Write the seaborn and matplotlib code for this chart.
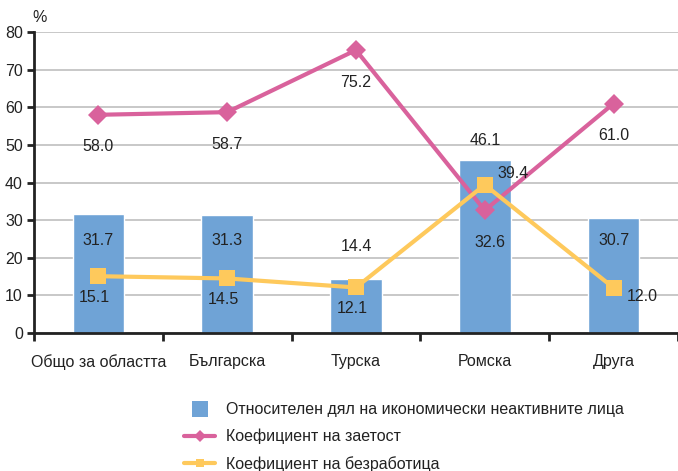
import numpy as np
import pandas as pd
import matplotlib
matplotlib.use("Agg")
import matplotlib.pyplot as plt
from matplotlib.lines import Line2D
import seaborn as sns

categories = ["Общо за областта", "Българска", "Турска", "Ромска", "Друга"]
inactive_share = [31.7, 31.3, 14.4, 46.1, 30.7]
employment_rate = [58.0, 58.7, 75.2, 32.6, 61.0]
unemployment_rate = [15.1, 14.5, 12.1, 39.4, 12.0]
y_ticks = [0, 10, 20, 30, 40, 50, 60, 70, 80]
legend_labels = ["Относителен дял на икономически неактивните лица",
                 "Коефициент на заетост",
                 "Коефициент на безработица"]

BAR_C = "#6fa3d6"
EMP_C = "#d9629c"
UNE_C = "#fec95c"

sns.set_theme(style="white")
plt.rcParams["font.family"] = ["Liberation Sans", "DejaVu Sans"]

df = pd.DataFrame({"cat": categories, "pos": np.arange(len(categories)),
                   "inactive": inactive_share, "emp": employment_rate,
                   "une": unemployment_rate})

fig = plt.figure(figsize=(6.78, 4.71), dpi=100)
ax = fig.add_axes([0.050, 0.293, 0.950, 0.639])

ax.set_axisbelow(True)
ax.yaxis.grid(True, color="#c8c8c8", linewidth=1.4)
sns.barplot(data=df, x="cat", y="inactive", color=BAR_C, width=0.4,
            saturation=1, ax=ax, zorder=2)
sns.lineplot(data=df, x="pos", y="emp", color=EMP_C, linewidth=3,
             marker="D", markersize=10, markeredgewidth=0, ax=ax, zorder=3)
sns.lineplot(data=df, x="pos", y="une", color=UNE_C, linewidth=3,
             marker="s", markersize=11, markeredgewidth=0, ax=ax, zorder=4)

fs = 11.5
tc = "#222222"
# bar labels
for i, v in enumerate(inactive_share):
    if v > 40:
        ax.text(i, v + 3, f"{v:.1f}", ha="center", va="bottom", fontsize=fs, color=tc, zorder=5)
    elif v < 20:
        ax.text(i, 23.1, f"{v:.1f}", ha="center", va="center", fontsize=fs, color=tc, zorder=5)
    else:
        ax.text(i, 24.5, f"{v:.1f}", ha="center", va="center", fontsize=fs, color=tc, zorder=5)
# employment labels
for i, v in enumerate(employment_rate):
    ax.text(i + (0.04 if i == 3 else 0), v - 8.5, f"{v:.1f}", ha="center",
            va="center", fontsize=fs, color=tc, zorder=5)
# unemployment labels
for i, v in enumerate(unemployment_rate):
    if i >= 3:
        ax.text(i + 0.1, v + (3 if i == 3 else -2.2), f"{v:.1f}", ha="left",
                va="center", fontsize=fs, color=tc, zorder=5)
    else:
        ax.text(i - 0.03, v - 5.6, f"{v:.1f}", ha="center", va="center",
                fontsize=fs, color=tc, zorder=5)

ax.set_xlim(-0.5, len(categories) - 0.5)
ax.set_ylim(0, 80)
ax.set_yticks(y_ticks)
ax.set_xlabel("")
ax.set_ylabel("")
ax.set_xticks(np.arange(-0.5, len(categories)), minor=False)
ax.set_xticklabels([""] * (len(categories) + 1))
ax.set_xticks(np.arange(len(categories)), minor=True)
ax.set_xticklabels(categories, minor=True, fontsize=fs, color=tc)
ax.tick_params(axis="x", which="major", direction="out", length=6, width=2,
               color=tc, bottom=True)
ax.tick_params(axis="x", which="minor", length=0, pad=15)
ax.tick_params(axis="y", direction="out", length=5, width=2, color=tc,
               left=True, labelsize=fs, labelcolor=tc, pad=3)
for s in ["top", "right"]:
    ax.spines[s].set_visible(False)
for s in ["left", "bottom"]:
    ax.spines[s].set_color(tc)
    ax.spines[s].set_linewidth(2)

fig.text(0.048, 0.962, "%", fontsize=fs, ha="left", va="center", color=tc)

handles = [
    Line2D([0], [0], color=BAR_C, linestyle="none", marker="s", markersize=12,
           markeredgewidth=0),
    Line2D([0], [0], color=EMP_C, linewidth=3, marker="D", markersize=6, markeredgewidth=0),
    Line2D([0], [0], color=UNE_C, linewidth=3, marker="s", markersize=6, markeredgewidth=0),
]
leg = fig.legend(handles, legend_labels, loc="upper left",
                 bbox_to_anchor=(0.272, 0.146), frameon=False, fontsize=fs,
                 handlelength=1.9, handletextpad=0.7, labelspacing=0.72,
                 borderaxespad=0, borderpad=0)
for t in leg.get_texts():
    t.set_color(tc)

fig.savefig("out.png", dpi=100)
